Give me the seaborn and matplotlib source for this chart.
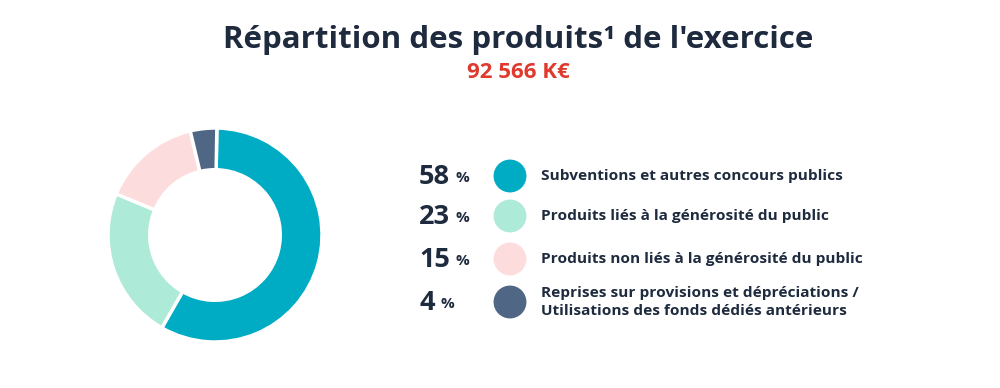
import matplotlib.pyplot as plt
import pandas as pd
import seaborn as sns

# data
labels = [
    "Subventions et autres concours publics",
    "Produits liés à la générosité du public",
    "Produits non liés à la générosité du public",
    "Reprises sur provisions et dépréciations /\nUtilisations des fonds dédiés antérieurs",
]
shares = [58, 23, 15, 4]
colors = ["#00abc4", "#aeead8", "#fddcdd", "#4f6784"]
title = "Répartition des produits¹ de l'exercice"
total_label = "92 566 K€"

W, H = 1000, 388
sns.set_theme(style="white")
plt.rcParams["font.family"] = ["Open Sans", "DejaVu Sans"]
navy = "#1e2a3d"

fig = plt.figure(figsize=(W / 100, H / 100), dpi=100)

# donut
cx, cy, r = 215, 235, 107
ax = fig.add_axes([(cx - r) / W, (H - cy - r) / H, 2 * r / W, 2 * r / H])
ax.pie(
    shares,
    colors=colors,
    startangle=89,
    counterclock=False,
    radius=1,
    wedgeprops={"width": 0.39, "edgecolor": "white", "linewidth": 2.5},
)
ax.set_xlim(-1, 1)
ax.set_ylim(-1, 1)
ax.set_aspect("equal")
ax.axis("off")

# overlay in pixel coordinates for title and legend
ov = fig.add_axes([0, 0, 1, 1])

rows = pd.DataFrame({"x": [510] * 4, "y": [176, 216, 259, 302], "label": labels, "share": shares})
sns.scatterplot(
    data=rows, x="x", y="y", hue="label", palette=dict(zip(labels, colors)),
    s=560, linewidth=0, legend=False, ax=ov,
)
ov.set_xlim(0, W)
ov.set_ylim(H, 0)
ov.axis("off")

ov.text(518, 40, title, ha="center", va="center", fontsize=22.5, fontweight="bold", color=navy)
ov.text(518, 72, total_label, ha="center", va="center", fontsize=16, fontweight="bold", color="#e0392d")

for _, row in rows.iterrows():
    num = ov.text(419, row.y + 1, f"{row.share}", ha="left", va="center",
                  fontsize=19.5, fontweight="bold", color=navy)
    ov.annotate("%", xy=(1, 0.5), xycoords=num, xytext=(4, -1), textcoords="offset points",
                ha="left", va="center", fontsize=11, fontweight="bold", color=navy)
    ov.text(541, row.y, row.label, ha="left", va="center", fontsize=11.1,
            fontweight="bold", color=navy, linespacing=1.3)

fig.savefig("out.png", dpi=100, facecolor="white")
